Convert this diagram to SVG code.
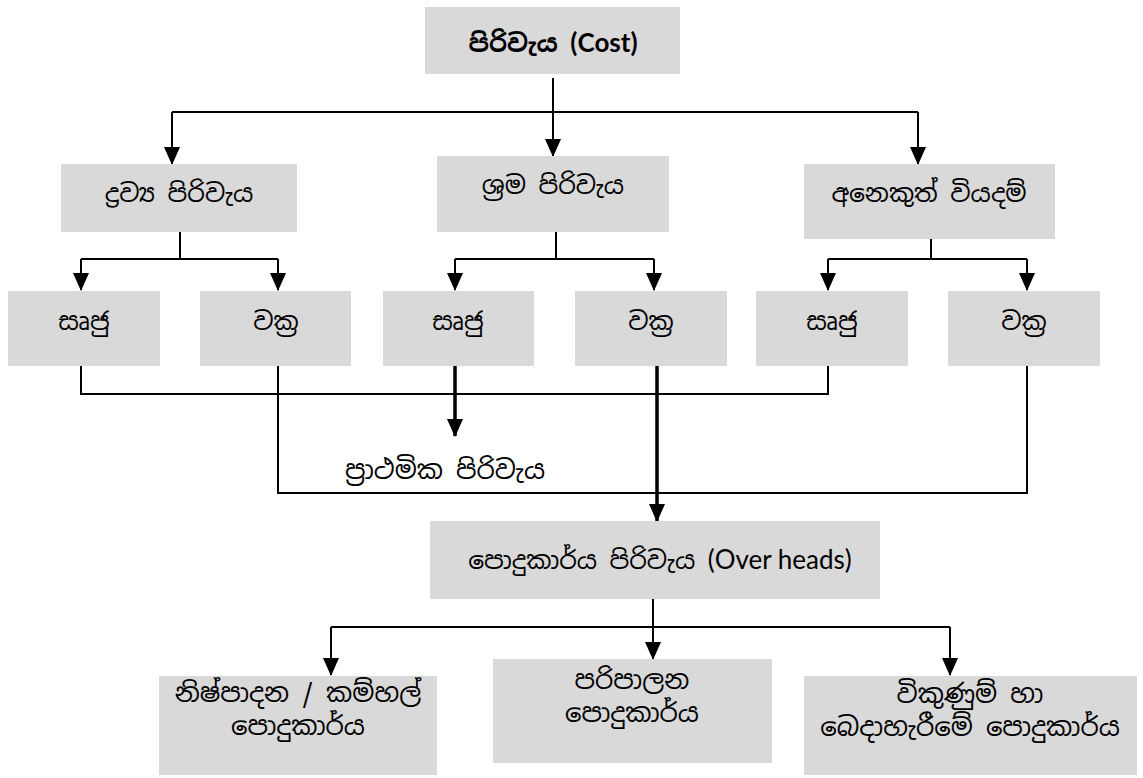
<svg xmlns="http://www.w3.org/2000/svg" width="1143" height="778" viewBox="0 0 1143 778">
<style>
.box{fill:#d9d9d9}
.t{font-family:"Noto Sans Sinhala","Iskoola Pota","Noto Serif Sinhala","Lato","Noto Sans",sans-serif;font-size:25px;fill:#000;text-anchor:middle}
.b{font-size:26px}
.lat{font-family:"Lato","Liberation Sans",sans-serif;font-size:26px}
.c{fill:none;stroke:#000;stroke-width:2}
.thick{stroke-width:3.5}
</style>
<defs>
<marker id="ah" markerUnits="userSpaceOnUse" markerWidth="18" markerHeight="16" viewBox="0 0 18 16" refX="17" refY="8" orient="auto">
<path d="M0,0 L18,8 L0,16 z" fill="#000"/>
</marker>
</defs>
<rect width="1143" height="778" fill="#fff"/>
<g id="connectors">
<path class="c" d="M553,78 V112 M172,112 H918"/>
<path class="c" d="M172,112 V164" marker-end="url(#ah)"/>
<path class="c" d="M553,112 V156" marker-end="url(#ah)"/>
<path class="c" d="M918,112 V164" marker-end="url(#ah)"/>
<path class="c" d="M180,232 V259 M81,259 H278 M556,232 V259 M455,259 H654 M931,239 V259 M828,259 H1027"/>
<path class="c" d="M81,259 V290" marker-end="url(#ah)"/>
<path class="c" d="M278,259 V290" marker-end="url(#ah)"/>
<path class="c" d="M455,259 V290" marker-end="url(#ah)"/>
<path class="c" d="M654,259 V290" marker-end="url(#ah)"/>
<path class="c" d="M828,259 V290" marker-end="url(#ah)"/>
<path class="c" d="M1027,259 V290" marker-end="url(#ah)"/>
<path class="c" d="M81,366 V394 H828 V366"/>
<path class="c" d="M278,366 V493 H1027 V366"/>
<path class="c thick" d="M455,366 V436" marker-end="url(#ah)"/>
<path class="c thick" d="M657,366 V521" marker-end="url(#ah)"/>
<path class="c" d="M653,599 V627 M331,627 H950"/>
<path class="c" d="M331,627 V675" marker-end="url(#ah)"/>
<path class="c" d="M653,627 V659" marker-end="url(#ah)"/>
<path class="c" d="M950,627 V675" marker-end="url(#ah)"/>
</g>
<g id="cost">
<rect class="box" x="425" y="7" width="255" height="67"/>
<text class="t" x="553" y="52" font-weight="bold">පිරිවැය <tspan class="lat" font-size="27">(Cost)</tspan></text>
</g>
<g id="material">
<rect class="box" x="61" y="164" width="236" height="68"/>
<text class="t" x="179" y="202">ද්‍රව්‍ය පිරිවැය</text>
</g>
<g id="labour">
<rect class="box" x="437" y="156" width="232" height="76"/>
<text class="t" x="553" y="194">ශ්‍රම පිරිවැය</text>
</g>
<g id="other">
<rect class="box" x="804" y="164" width="251" height="75"/>
<text class="t" x="929" y="202">අනෙකුත් වියදම්</text>
</g>
<g id="m-direct">
<rect class="box" x="8" y="291" width="152" height="75"/>
<text class="t" x="84" y="330">සෘජු</text>
</g>
<g id="m-indirect">
<rect class="box" x="200" y="291" width="151" height="75"/>
<text class="t" x="276" y="330">වක්‍ර</text>
</g>
<g id="l-direct">
<rect class="box" x="383" y="291" width="151" height="75"/>
<text class="t" x="458" y="330">සෘජු</text>
</g>
<g id="l-indirect">
<rect class="box" x="575" y="291" width="152" height="75"/>
<text class="t" x="651" y="330">වක්‍ර</text>
</g>
<g id="o-direct">
<rect class="box" x="756" y="291" width="152" height="75"/>
<text class="t" x="832" y="330">සෘජු</text>
</g>
<g id="o-indirect">
<rect class="box" x="948" y="291" width="152" height="75"/>
<text class="t" x="1024" y="330">වක්‍ර</text>
</g>
<g id="prime">
<text class="t b" x="445" y="479">ප්‍රාථමික පිරිවැය</text>
</g>
<g id="overheads">
<rect class="box" x="430" y="521" width="450" height="78"/>
<text class="t" x="660" y="569" font-size="27">පොදුකාර්ය පිරිවැය <tspan class="lat">(Over heads)</tspan></text>
</g>
<g id="production">
<rect class="box" x="159" y="676" width="278" height="99"/>
<text class="t b" x="298" y="702">නිෂ්පාදන / කම්හල්</text>
<text class="t b" x="298" y="735">පොදුකාර්ය</text>
</g>
<g id="admin">
<rect class="box" x="493" y="659" width="279" height="104"/>
<text class="t b" x="632" y="689">පරිපාලන</text>
<text class="t b" x="632" y="722">පොදුකාර්ය</text>
</g>
<g id="selling">
<rect class="box" x="804" y="676" width="333" height="99"/>
<text class="t b" x="970" y="703">විකුණුම් හා</text>
<text class="t b" x="970" y="736">බෙදාහැරීමේ පොදුකාර්ය</text>
</g>
</svg>
